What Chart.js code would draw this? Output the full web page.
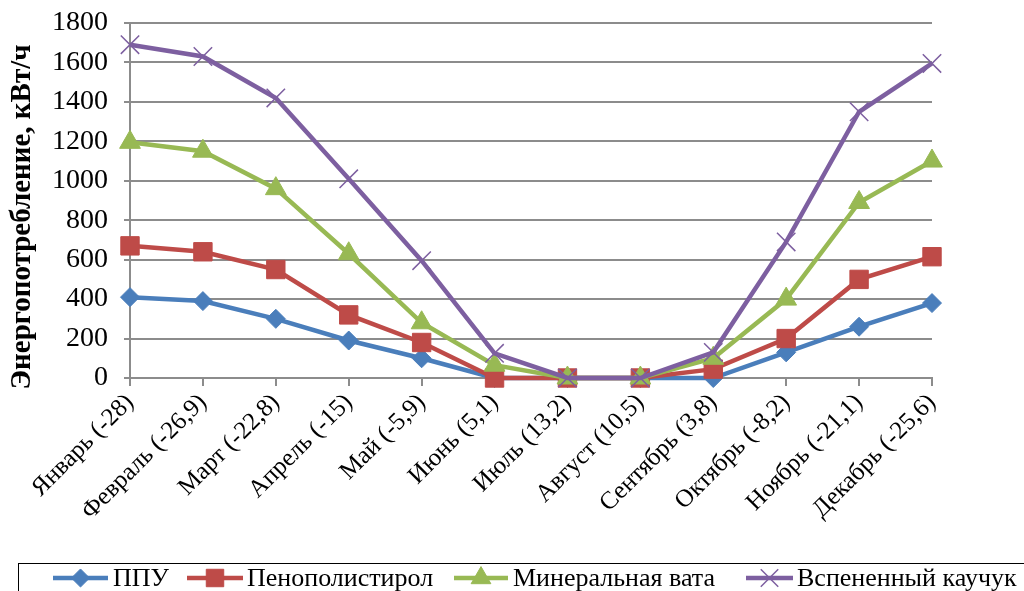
<!DOCTYPE html>
<html>
<head>
<meta charset="utf-8">
<script src="https://cdn.jsdelivr.net/npm/chart.js@4/dist/chart.umd.min.js"></script>
<style>
  html, body { margin: 0; padding: 0; background: #fff; }
  #wrap { width: 1024px; height: 591px; position: relative; }
</style>
</head>
<body>
<div id="wrap"><canvas id="chart"></canvas></div>
<script>
const months = ['Январь (-28)', 'Февраль (-26,9)', 'Март (-22,8)', 'Апрель (-15)', 'Май (-5,9)', 'Июнь (5,1)',
  'Июль (13,2)', 'Август (10,5)', 'Сентябрь (3,8)', 'Октябрь (-8,2)', 'Ноябрь (-21,1)', 'Декабрь (-25,6)'];

const ppu = [410, 390, 300, 190, 100, 0, 0, 0, 0, 130, 260, 380];
const penopolistirol = [670, 640, 550, 320, 180, 0, 0, 0, 45, 200, 500, 615];
const mineralVata = [1195, 1150, 960, 630, 280, 65, 0, 0, 100, 400, 890, 1100];
const kauchuk = [1690, 1630, 1420, 1010, 595, 125, 0, 0, 130, 690, 1350, 1595];

const yTicks = [0, 200, 400, 600, 800, 1000, 1200, 1400, 1600, 1800];
const yTitle = 'Энергопотребление, кВт/ч';

const serif = "'Liberation Serif', 'Times New Roman', serif";
const gridGray = '#8c8c8c';

const series = [
  { label: 'ППУ', data: ppu, color: '#4A7EBB', style: 'rectRot', radius: 9.5, order: 4 },
  { label: 'Пенополистирол', data: penopolistirol, color: '#BE4B48', style: 'rect', radius: 13, order: 3 },
  { label: 'Минеральная вата', data: mineralVata, color: '#98B954', style: 'triangle', radius: 12, order: 2 },
  { label: 'Вспененный каучук', data: kauchuk, color: '#7D5FA0', style: 'crossRot', radius: 13, order: 1 }
];

// y title drawn by hand so it sits where the original has it
const sideTitle = {
  id: 'sideTitle',
  afterDraw(chart) {
    const ctx = chart.ctx;
    ctx.save();
    ctx.translate(23, 217);
    ctx.rotate(-Math.PI / 2);
    ctx.font = 'bold 29px ' + serif;
    ctx.fillStyle = '#000';
    ctx.textAlign = 'center';
    ctx.textBaseline = 'middle';
    ctx.fillText(yTitle, 0, 0);
    ctx.restore();
  }
};

// legend in a frame along the bottom, line + marker like the original
// [line start, line end, text start] per item
const legendSlots = [[53, 108, 113], [187, 243, 247], [454, 508, 513], [746, 793, 797]];
const boxLegend = {
  id: 'boxLegend',
  afterDraw(chart) {
    const ctx = chart.ctx;
    const y = 578;
    ctx.save();
    ctx.strokeStyle = '#000';
    ctx.lineWidth = 1;
    ctx.strokeRect(18.5, 563.5, 1020, 40);
    ctx.font = '26px ' + serif;
    ctx.textBaseline = 'middle';
    series.forEach((s, i) => {
      const [x0, x1, tx] = legendSlots[i];
      ctx.strokeStyle = s.color;
      ctx.fillStyle = s.color;
      ctx.lineWidth = 4.5;
      ctx.beginPath();
      ctx.moveTo(x0, y);
      ctx.lineTo(x1, y);
      ctx.stroke();
      ctx.lineWidth = s.style === 'crossRot' ? 1.5 : 1;
      Chart.helpers.drawPoint(ctx, { pointStyle: s.style, radius: s.radius * 0.95, borderWidth: ctx.lineWidth }, (x0 + x1) / 2, y);
      ctx.fillStyle = '#000';
      ctx.fillText(s.label, tx, y + 1);
    });
    ctx.restore();
  }
};

new Chart(document.getElementById('chart'), {
  type: 'line',
  data: {
    labels: months,
    datasets: series.map((s) => ({
      label: s.label,
      data: s.data,
      borderColor: s.color,
      backgroundColor: s.color,
      borderWidth: 4.5,
      pointStyle: s.style,
      pointRadius: s.radius,
      pointHoverRadius: s.radius,
      pointBorderWidth: s.style === 'crossRot' ? 1.5 : 1,
      pointBorderColor: s.color,
      pointBackgroundColor: s.color,
      tension: 0,
      clip: false,
      order: s.order
    }))
  },
  options: {
    responsive: true,
    maintainAspectRatio: false,
    animation: false,
    layout: { padding: { top: 14, right: 92, bottom: 0, left: 0 } },
    plugins: {
      legend: { display: false },
      tooltip: { enabled: false }
    },
    scales: {
      x: {
        offset: false,
        afterFit: (scale) => { scale.height = 213; },
        grid: {
          drawOnChartArea: false,
          color: gridGray,
          lineWidth: 2,
          tickLength: 8
        },
        border: { color: gridGray, width: 2 },
        ticks: {
          autoSkip: false,
          minRotation: 45,
          maxRotation: 45,
          padding: 2,
          color: '#000',
          font: { family: serif, size: 25 }
        }
      },
      y: {
        min: 0,
        max: 1800,
        afterFit: (scale) => { scale.width = 130; },
        afterBuildTicks: (scale) => { scale.ticks = yTicks.map((v) => ({ value: v })); },
        grid: {
          color: gridGray,
          lineWidth: 2,
          tickLength: 6
        },
        border: { color: gridGray, width: 2 },
        ticks: {
          padding: 16,
          color: '#000',
          font: { family: serif, size: 28, lineHeight: 0.5 },
          callback: (v) => String(v)
        }
      }
    }
  },
  plugins: [sideTitle, boxLegend]
});
</script>
</body>
</html>
